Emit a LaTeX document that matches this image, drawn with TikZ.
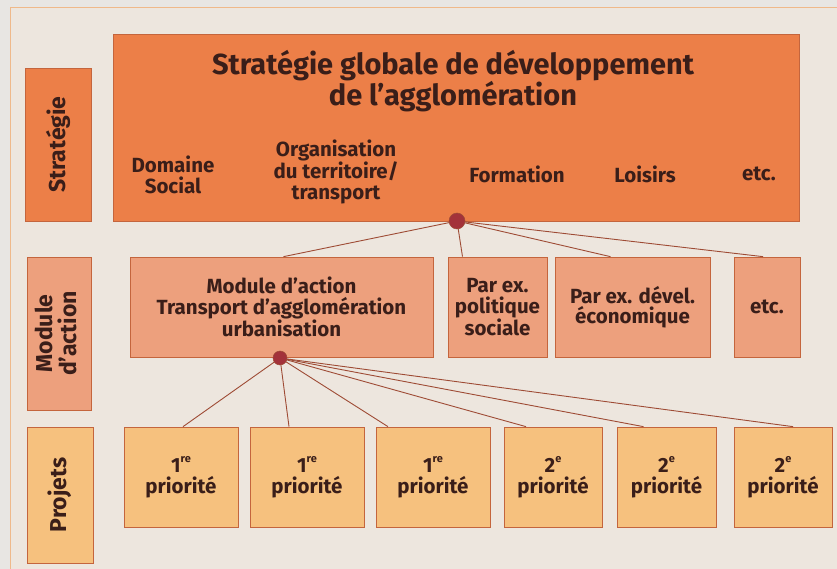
\documentclass[tikz,border=0pt]{standalone}
\usepackage{fontspec}
\setmainfont{Fira Sans}
\usetikzlibrary{calc}
\definecolor{dehors}{HTML}{E8E6E3}
\definecolor{fond}{HTML}{EDE6DE}
\definecolor{cadre}{HTML}{EFB98A}
\definecolor{strat}{HTML}{EC7F48}
\definecolor{module}{HTML}{EDA07D}
\definecolor{projet}{HTML}{F6C17E}
\definecolor{bord}{HTML}{C4653D}
\definecolor{texte}{HTML}{3A1E19}
\definecolor{lien}{HTML}{9E4B35}
\definecolor{point}{HTML}{A3323A}
\newcommand{\exposant}[1]{\raisebox{0.5em}{\fontsize{11}{11}\selectfont #1}}

\begin{document}
\begin{tikzpicture}[x=1pt, y=-1pt,
    boite/.style={rectangle, draw=bord, line width=0.7pt, inner sep=0pt, text=texte, align=center, font=\bfseries\fontsize{20.5}{20.5}\selectfont},
    etiq/.style={text=texte, align=center, inner sep=0pt, font=\bfseries\fontsize{20.5}{20.5}\selectfont},
    noeud/.style={circle, fill=point, draw=lien, line width=0.5pt, inner sep=0pt, minimum size=16pt},
    lien/.style={draw=lien, line width=0.9pt}]
    \useasboundingbox[fill=dehors] (0,0) rectangle (837,569);
    \draw[cadre, fill=fond, line width=0.8pt] (10,7) rectangle (845,575);

    \node[boite, fill=strat, minimum width=66pt, minimum height=153pt, font=\bfseries\fontsize{23}{23}\selectfont] (cstrat) at (58,144.5) {\rotatebox{90}{Stratégie}};
    \node[boite, fill=module, minimum width=64pt, minimum height=153pt, font=\bfseries\fontsize{23}{23}\selectfont] (cmodule) at (59,333.5) {\rotatebox{90}{\begin{tabular}{@{}c@{}}Module\\[-2pt] d’action\end{tabular}}};
    \node[boite, fill=projet, minimum width=66pt, minimum height=136pt, font=\bfseries\fontsize{23}{23}\selectfont] (cprojets) at (60,495) {\rotatebox{90}{Projets}};

    \node[boite, fill=strat, minimum width=686pt, minimum height=187pt] (strategie) at (456,127.5) {};
    \node[etiq, font=\bfseries\fontsize{29}{28}\selectfont] (titre) at (453,81) {Stratégie globale de développement\\de l’agglomération};
    \node[etiq] (social) at (173,175) {Domaine\\Social};
    \node[etiq] (territoire) at (336,172) {Organisation\\du territoire/\\transport};
    \node[etiq] (formation) at (517,174) {Formation};
    \node[etiq] (loisirs) at (645,174) {Loisirs};
    \node[etiq] (etc) at (759,174) {etc.};

    \node[boite, fill=module, minimum width=303pt, minimum height=100pt] (transport) at (281.5,307) {Module d’action\\Transport d’agglomération\\urbanisation};
    \node[boite, fill=module, minimum width=99pt, minimum height=100pt] (politique) at (497.5,307) {Par ex.\\politique\\sociale};
    \node[boite, fill=module, minimum width=155pt, minimum height=100pt] (economie) at (632.5,307) {Par ex. dével.\\économique};
    \node[boite, fill=module, minimum width=66pt, minimum height=100pt] (autres) at (767,307) {etc.};

    \node[boite, fill=projet, minimum width=114pt, minimum height=100pt] (p1) at (181,477) {1\exposant{re}\\priorité};
    \node[boite, fill=projet, minimum width=114pt, minimum height=100pt] (p2) at (307,477) {1\exposant{re}\\priorité};
    \node[boite, fill=projet, minimum width=114pt, minimum height=100pt] (p3) at (433,477) {1\exposant{re}\\priorité};
    \node[boite, fill=projet, minimum width=98pt, minimum height=100pt] (p4) at (553,477) {2\exposant{e}\\priorité};
    \node[boite, fill=projet, minimum width=99pt, minimum height=100pt] (p5) at (666.5,477) {2\exposant{e}\\priorité};
    \node[boite, fill=projet, minimum width=98pt, minimum height=100pt] (p6) at (783,477) {2\exposant{e}\\priorité};

    \coordinate (haut) at (457,221);
    \coordinate (bas) at (280,358);

    \foreach \cible/\dx in {transport/2, politique/-35, economie/-22, autres/-4}
        \draw[lien] (haut) -- ([xshift=\dx pt]\cible.north);
    \foreach \cible/\dx in {p1/2, p2/-18, p3/-45, p4/-27, p5/-23, p6/10}
        \draw[lien] (bas) -- ([xshift=\dx pt]\cible.north);

    \node[noeud] (phaut) at (haut) {};
    \node[noeud, minimum size=14pt] (pbas) at (bas) {};
\end{tikzpicture}
\end{document}
